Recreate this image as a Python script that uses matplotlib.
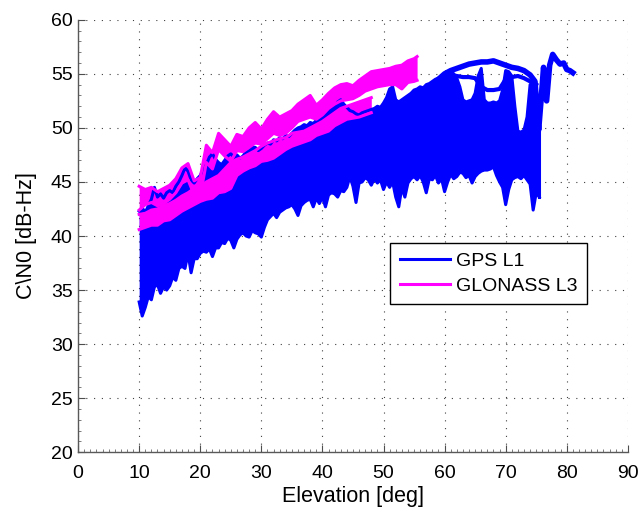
import numpy as np
import matplotlib
matplotlib.use('Agg')
import matplotlib.pyplot as plt

plt.rcParams['font.family'] = ['Liberation Sans', 'DejaVu Sans']

# GPS L1: dense band of all satellite tracks, sampled every 0.5 deg of elevation
gps_elev = np.arange(10.0, 76.0, 0.5)
gps_low = [
    33.9, 32.6, 33.4, 34.4, 34.1, 35.3, 35.5, 34.7, 35.3, 35.0,
    35.4, 36.2, 35.9, 37.0, 37.2, 37.0, 38.4, 36.6, 37.9, 37.9,
    38.4, 38.6, 38.5, 38.8, 38.1, 38.9, 38.9, 39.4, 39.3, 39.8,
    39.6, 38.9, 39.7, 40.1, 40.3, 40.0, 39.9, 40.5, 40.3, 40.2,
    39.9, 40.8, 41.5, 41.8, 42.1, 41.7, 42.2, 42.4, 42.6, 42.7,
    42.9, 42.5, 41.9, 42.8, 43.1, 43.3, 43.4, 42.7, 43.5, 43.0,
    43.6, 42.7, 43.8, 44.0, 43.9, 43.6, 44.2, 44.1, 44.5, 45.5,
    44.6, 43.1, 44.9, 45.0, 45.4, 45.2, 44.7, 45.3, 44.9, 45.2,
    44.3, 45.0, 44.5, 45.0, 43.6, 42.7, 44.5, 43.6, 44.9, 45.3,
    45.5, 45.2, 45.6, 45.0, 44.0, 45.3, 45.2, 45.6, 44.9, 45.3,
    44.1, 45.0, 45.7, 45.3, 45.5, 45.9, 45.8, 45.4, 45.6, 44.9,
    45.5, 45.8, 46.0, 46.1, 46.1, 46.2, 46.4, 45.6, 45.0, 44.5,
    42.9, 44.3, 45.2, 45.4, 45.5, 45.3, 45.6, 45.2, 44.8, 42.4,
    44.0, 43.6,
]
gps_high = [
    42.3, 42.6, 42.2, 42.8, 43.4, 44.5, 43.6, 43.9, 43.5, 44.0,
    44.2, 44.0, 44.6, 45.0, 45.6, 46.3, 46.0, 45.2, 44.9, 45.3,
    45.6, 46.2, 46.6, 47.3, 47.6, 47.1, 46.8, 46.6, 47.0, 47.4,
    47.6, 47.3, 47.5, 47.2, 47.4, 47.8, 47.9, 48.2, 48.2, 47.9,
    48.1, 48.4, 48.6, 48.5, 48.9, 48.8, 49.1, 49.0, 49.3, 49.2,
    49.5, 49.8, 50.0, 50.1, 50.3, 50.2, 50.5, 50.4, 50.7, 50.8,
    51.0, 51.3, 51.5, 51.8, 52.0, 52.4, 52.6, 52.2, 51.9, 51.6,
    51.5, 51.3, 51.2, 51.4, 51.5, 51.6, 51.7, 51.8, 52.0, 51.9,
    52.3, 52.8, 53.6, 53.8, 52.6, 52.4, 52.6, 52.8, 53.0, 53.2,
    53.5, 53.6, 53.8, 53.7, 54.0, 54.1, 54.3, 54.5, 54.6, 54.8,
    55.0, 55.1, 55.2, 55.0, 54.6, 53.8, 52.6, 52.4, 52.5, 52.6,
    53.2, 54.8, 55.5, 52.6, 52.3, 52.3, 52.4, 52.3, 52.5, 53.5,
    55.3, 55.2, 54.8, 52.0, 49.7, 49.6, 49.8, 51.0, 54.0, 54.2,
    53.0, 51.0,
]

# GPS high-elevation tracks on top of the band
top_elev = [59, 60, 61, 62, 63, 64, 65, 66, 67, 68, 69, 70, 71, 72, 73, 74,
            74.8, 75.4, 75.8, 76.2, 76.7, 77.2, 77.7, 78.3, 78.9, 79.5, 80.0,
            80.5, 81.0]
top_cn0 = [54.5, 55.0, 55.3, 55.5, 55.7, 55.9, 56.0, 56.1, 56.1, 56.2, 56.0,
           55.8, 55.6, 55.5, 55.3, 54.9, 54.3, 49.8, 52.6, 55.6, 52.5, 55.8,
           56.8, 56.3, 55.9, 56.0, 55.4, 55.3, 55.1]
mid_elev = [62, 63, 64, 65, 66, 67, 68, 69, 70, 71, 72, 73, 74, 75]
mid_cn0 = [54.8, 54.7, 54.7, 54.6, 53.8, 53.5, 53.5, 53.6, 54.5, 54.7, 54.8,
           54.6, 54.3, 54.0]

# GLONASS L3: two tracks, each given as lower/upper edge of the noisy trace
glo1_elev = [10, 11, 12, 13, 14, 15, 16, 17, 18, 19, 20, 21, 22, 23, 24, 25,
             26, 27, 28, 29, 30, 31, 32, 33, 34, 35, 36, 37, 38, 39, 40, 41,
             42, 43, 44, 45, 46, 47, 48, 49, 50, 51, 52, 53, 54, 55, 55.5]
glo1_low = [42.4, 42.9, 43.1, 42.8, 43.0, 43.4, 44.0, 44.9, 45.2, 43.8, 43.7,
            46.8, 46.2, 48.0, 47.4, 46.9, 47.9, 47.8, 48.2, 48.6, 48.5, 49.0,
            49.5, 49.3, 49.5, 50.0, 50.6, 50.8, 51.0, 50.8, 51.2, 51.8, 52.2,
            52.5, 52.6, 52.7, 53.0, 53.4, 53.6, 53.8, 53.9, 54.0, 54.0, 53.6,
            54.2, 54.3, 54.4]
glo1_high = [44.6, 44.3, 44.5, 44.1, 44.4, 44.7, 45.3, 46.3, 46.7, 45.1, 45.4,
             48.4, 47.7, 49.5, 48.9, 48.3, 49.4, 49.2, 50.0, 50.5, 49.9, 50.8,
             51.5, 51.0, 51.3, 51.6, 52.2, 52.6, 53.0, 52.1, 52.6, 53.2, 53.7,
             54.0, 54.1, 53.9, 54.4, 54.8, 55.2, 55.3, 55.4, 55.5, 55.7, 55.8,
             56.2, 56.4, 56.6]
glo2_elev = [10, 11, 12, 13, 14, 15, 16, 17, 18, 19, 20, 21, 22, 23, 24, 25,
             26, 27, 28, 29, 30, 31, 32, 33, 34, 35, 36, 37, 38, 39, 40, 41,
             42, 43, 44, 45, 46, 47, 48]
glo2_low = [40.6, 40.8, 41.0, 41.0, 41.4, 41.5, 41.9, 42.3, 42.6, 42.9, 43.2,
            43.4, 43.5, 44.0, 44.1, 44.4, 45.6, 46.0, 46.3, 46.5, 46.9, 47.0,
            47.2, 47.6, 48.0, 48.3, 48.5, 48.7, 48.9, 49.3, 49.5, 49.7, 50.2,
            50.5, 50.8, 50.9, 51.0, 51.2, 51.4]
glo2_high = [42.0, 42.1, 42.4, 42.5, 42.8, 43.0, 43.3, 43.7, 44.0, 44.4, 44.6,
             45.0, 45.3, 45.6, 46.2, 46.8, 47.1, 47.3, 47.6, 47.9, 48.3, 48.6,
             48.8, 49.0, 49.1, 49.5, 49.6, 49.7, 50.0, 50.3, 50.6, 51.0, 51.4,
             51.8, 52.0, 52.2, 52.4, 52.6, 52.8]

GPS_COLOR = (0, 0, 1)
GLO_COLOR = (1, 0, 1)

fig = plt.figure(figsize=(6.4, 5.07), dpi=100)
ax = fig.add_axes([0.122, 0.108, 0.859, 0.853])

lw = 2.2
ax.fill_between(gps_elev, gps_low, gps_high, color=GPS_COLOR, lw=0)
ax.plot(gps_elev, gps_low, color=GPS_COLOR, lw=lw, solid_joinstyle='round')
gps_line, = ax.plot(gps_elev, gps_high, color=GPS_COLOR, lw=lw,
                    solid_joinstyle='round', label='GPS L1')
ax.plot([gps_elev[-1], gps_elev[-1]], [gps_low[-1], gps_high[-1]],
        color=GPS_COLOR, lw=lw)
ax.plot(top_elev, top_cn0, color=GPS_COLOR, lw=4, solid_joinstyle='round')
ax.plot(mid_elev, mid_cn0, color=GPS_COLOR, lw=3, solid_joinstyle='round')

glo_line = None
for el, lo, hi in [(glo1_elev, glo1_low, glo1_high),
                   (glo2_elev, glo2_low, glo2_high)]:
    ax.fill_between(el, lo, hi, color=GLO_COLOR, lw=0)
    ax.plot(el, lo, color=GLO_COLOR, lw=lw, solid_joinstyle='round')
    h, = ax.plot(el, hi, color=GLO_COLOR, lw=lw, solid_joinstyle='round')
    if glo_line is None:
        glo_line = h
glo_line.set_label('GLONASS L3')

ax.set_xlim(0, 90)
ax.set_ylim(20, 60)
ax.set_xticks(np.arange(0, 91, 10))
ax.set_yticks(np.arange(20, 61, 5))
ax.set_xticks(np.arange(0, 91, 1), minor=True)
ax.set_yticks(np.arange(20, 61, 1), minor=True)
ax.grid(True, which='major', color='0.25', linestyle=(0, (1, 6)), lw=0.8)
ax.set_axisbelow(True)
for s in ['top', 'right']:
    ax.spines[s].set_visible(False)
for s in ['left', 'bottom']:
    ax.spines[s].set_color('0.35')
    ax.spines[s].set_linewidth(1.0)
ax.tick_params(which='major', direction='in', length=5, width=0.8,
               color='0.3', labelsize=14)
ax.tick_params(which='minor', direction='in', length=2.5, width=0.6,
               color='0.4')
ax.tick_params(axis='x', which='major', pad=9)
ax.tick_params(axis='y', which='major', pad=4)

ax.set_xlabel('Elevation [deg]', fontsize=15.5, labelpad=3)
ax.set_ylabel('C\\N0 [dB-Hz]', fontsize=15.5, labelpad=10)

leg = ax.legend(handles=[gps_line, glo_line], loc='upper left',
                bbox_to_anchor=(0.567, 0.484), fontsize=14,
                fancybox=False, framealpha=1, edgecolor='black',
                handlelength=2.6, borderpad=0.5, labelspacing=0.35,
                handletextpad=0.3, borderaxespad=0)
leg.get_frame().set_linewidth(1.0)
for line in leg.get_lines():
    line.set_linewidth(2.2)

fig.savefig('out.png', dpi=100)
